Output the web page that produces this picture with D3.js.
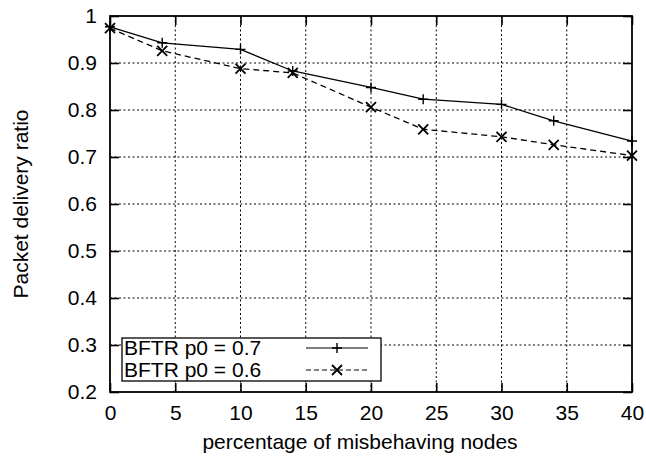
<!DOCTYPE html>
<html><head><meta charset="utf-8">
<script src="https://cdn.jsdelivr.net/npm/d3@7"></script>
<style>body{margin:0;background:#fff}svg{display:block}text{font-family:"Liberation Sans",Arial,Helvetica,sans-serif;fill:#000}</style>
</head><body><svg id="c" width="646" height="459"></svg>
<script>
const xValues = [0, 4, 10, 14, 20, 24, 30, 34, 40];
const seriesP07 = [0.977, 0.943, 0.929, 0.883, 0.848, 0.823, 0.812, 0.777, 0.734];
const seriesP06 = [0.974, 0.926, 0.888, 0.879, 0.806, 0.759, 0.743, 0.726, 0.703];
const seriesNames = ["BFTR p0 = 0.7", "BFTR p0 = 0.6"];
const xTicks = [0, 5, 10, 15, 20, 25, 30, 35, 40];
const yTicks = [0.2, 0.3, 0.4, 0.5, 0.6, 0.7, 0.8, 0.9, 1];
const xTitle = "percentage of misbehaving nodes";
const yTitle = "Packet delivery ratio";

const svg = d3.select("#c");
const L = 110, R = 632, T = 16, B = 392;
const x = d3.scaleLinear().domain([0, 40]).range([L, R]);
const y = d3.scaleLinear().domain([0.2, 1]).range([B, T]);
const fs = 21;

// grid
const g = svg.append("g");
g.selectAll(".vg").data(xTicks.slice(1, -1)).enter().append("line")
  .attr("x1", d => x(d)).attr("x2", d => x(d)).attr("y1", T).attr("y2", B)
  .attr("stroke", "#000").attr("stroke-width", 1).attr("stroke-dasharray", "2,2.5");
g.selectAll(".hg").data(yTicks.slice(1, -1)).enter().append("line")
  .attr("y1", d => y(d)).attr("y2", d => y(d)).attr("x1", L).attr("x2", R)
  .attr("stroke", "#000").attr("stroke-width", 1).attr("stroke-dasharray", "2,2.5");

// axes with inward ticks
const tl = 9;
const axB = svg.append("g").attr("transform", `translate(0,${B})`)
  .call(d3.axisBottom(x).tickValues(xTicks).tickSize(-tl).tickPadding(13).tickFormat(d3.format("d")));
const axT = svg.append("g").attr("transform", `translate(0,${T})`)
  .call(d3.axisTop(x).tickValues(xTicks).tickSize(-tl).tickFormat(""));
const axL = svg.append("g").attr("transform", `translate(${L},0)`)
  .call(d3.axisLeft(y).tickValues(yTicks).tickSize(-tl).tickPadding(13).tickFormat(d => d === 1 ? "1" : d3.format(".1f")(d)));
const axR = svg.append("g").attr("transform", `translate(${R},0)`)
  .call(d3.axisRight(y).tickValues(yTicks).tickSize(-tl).tickFormat(""));
[axB, axT, axL, axR].forEach(a => {
  a.select(".domain").remove();
  a.selectAll(".tick line").attr("stroke", "#000").attr("stroke-width", 1.6);
  a.selectAll("text").attr("font-size", fs).attr("font-family", '"Liberation Sans",Arial,sans-serif').attr("fill", "#000");
});

// series
const line = d3.line().x((d, i) => x(xValues[i])).y(d => y(d));
svg.append("path").datum(seriesP07).attr("d", line).attr("fill", "none")
  .attr("stroke", "#000").attr("stroke-width", 1.3);
svg.append("path").datum(seriesP06).attr("d", line).attr("fill", "none")
  .attr("stroke", "#000").attr("stroke-width", 1.3).attr("stroke-dasharray", "6,4");

const ms = 5;
function plus(sel, cx, cy) {
  sel.append("path").attr("d", `M${cx - ms},${cy}H${cx + ms}M${cx},${cy - ms}V${cy + ms}`)
    .attr("stroke", "#000").attr("stroke-width", 1.4).attr("fill", "none");
}
function cross(sel, cx, cy) {
  sel.append("path").attr("d", `M${cx - ms},${cy - ms}L${cx + ms},${cy + ms}M${cx - ms},${cy + ms}L${cx + ms},${cy - ms}`)
    .attr("stroke", "#000").attr("stroke-width", 1.8).attr("fill", "none");
}
const mk = svg.append("g");
seriesP07.forEach((v, i) => plus(mk, x(xValues[i]), y(v)));
seriesP06.forEach((v, i) => cross(mk, x(xValues[i]), y(v)));

// frame
svg.append("rect").attr("x", L).attr("y", T).attr("width", R - L).attr("height", B - T)
  .attr("fill", "none").attr("stroke", "#000").attr("stroke-width", 1.8);

// legend
const lg = svg.append("g");
lg.append("rect").attr("x", 122).attr("y", 338).attr("width", 259).attr("height", 43)
  .attr("fill", "#fff").attr("stroke", "#000").attr("stroke-width", 1.3);
const rows = [348, 370];
seriesNames.forEach((n, i) => {
  lg.append("text").attr("x", 124).attr("y", rows[i]).attr("dy", "0.35em")
    .attr("font-size", fs).text(n);
  lg.append("line").attr("x1", 306).attr("x2", 368).attr("y1", rows[i]).attr("y2", rows[i])
    .attr("stroke", "#000").attr("stroke-width", 1.2).attr("stroke-dasharray", i === 1 ? "5,3" : null);
});
plus(lg, 337, rows[0]);
cross(lg, 337, rows[1]);

// titles
svg.append("text").attr("x", 360).attr("y", 442).attr("dy", "0.35em")
  .attr("text-anchor", "middle").attr("font-size", fs).text(xTitle);
svg.append("text").attr("transform", `translate(21,${204}) rotate(-90)`).attr("dy", "0.35em")
  .attr("text-anchor", "middle").attr("font-size", fs).text(yTitle);
</script></body></html>
